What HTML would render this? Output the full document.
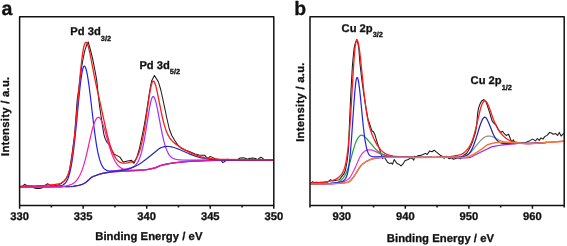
<!DOCTYPE html>
<html><head><meta charset="utf-8"><style>
html,body{margin:0;padding:0;background:#fff;overflow:hidden}
svg{display:block}
</style></head><body>
<svg width="567" height="246" viewBox="0 0 567 246">
<rect width="567" height="246" fill="#fff"/>
<g fill="none" stroke-linejoin="round" stroke-linecap="round">
<path d="M20.6 187.0L22.2 186.7L24.6 184.3L26.5 185.5L29.3 185.9L32.1 185.9L34.1 187.9L36.5 188.5L39.6 188.5L42.0 187.9L45.2 185.5L47.6 183.8L50.0 185.1L52.3 185.9L55.5 185.5L58.7 184.7L61.1 183.5L64.0 180.8L66.2 178.6L68.2 174.5L69.5 170.6L70.8 162.0L72.3 152.0L73.5 143.0L74.6 135.0L77.2 100.0L78.6 90.0L79.9 80.0L80.5 74.4L81.8 65.9L83.4 57.0L85.0 49.8L86.5 45.3L88.2 41.9L90.2 49.0L92.6 58.7L94.3 67.0L96.6 79.4L98.4 96.0L99.4 105.0L101.5 119.0L103.6 133.0L104.3 136.0L105.5 139.4L107.2 142.6L108.6 143.8L110.2 146.4L111.4 149.2L114.2 154.2L117.1 155.6L119.9 157.1L123.2 162.0L126.5 161.2L129.0 160.7L131.6 160.3L134.0 163.3L135.5 160.2L137.1 156.5L139.1 150.0L140.6 143.0L142.5 134.0L144.3 125.0L146.0 115.0L147.4 106.0L148.5 99.0L149.8 90.7L151.6 81.0L154.4 75.5L158.3 81.6L160.7 89.5L162.6 98.0L164.5 107.0L166.8 118.0L169.3 129.0L171.8 135.5L174.6 140.3L177.5 144.6L181.3 148.3L185.5 150.3L190.5 152.1L195.0 153.9L199.1 155.0L202.1 155.2L204.6 155.2L206.7 157.7L208.2 158.2L210.2 156.4L212.3 157.4L215.3 158.7L218.4 159.7L221.4 160.7L222.9 162.6L224.4 161.8L227.5 159.2L229.0 160.0L231.5 160.2L234.1 160.2L236.5 160.0L238.1 159.2L240.2 158.0L243.2 157.7L245.2 158.2L247.3 159.2L249.3 158.4L252.3 158.0L255.4 158.4L257.4 159.7L259.4 158.2L261.0 157.2L262.5 158.4L264.5 160.0L268.6 160.2L271.6 160.4L273.0 160.3" stroke="#1a1a1a" stroke-width="1.05"/>
<path d="M20.60 186.85L36.60 186.74L47.85 186.56L54.85 186.32L57.35 186.15L59.10 185.96L60.60 185.70L61.85 185.35L62.85 184.95L63.85 184.37L64.85 183.56L65.60 182.75L66.35 181.72L67.10 180.42L67.85 178.81L68.60 176.82L69.35 174.40L69.85 172.52L71.10 166.79L72.35 159.39L73.60 150.20L74.85 139.34L76.10 127.14L79.10 96.00L80.10 86.55L80.85 80.28L81.85 73.43L82.60 69.64L83.10 67.84L83.60 66.66L83.85 66.31L84.10 66.13L84.35 66.08L84.60 66.17L84.85 66.38L85.10 66.73L85.60 67.77L86.10 69.26L86.60 71.20L87.10 73.54L88.10 79.37L89.10 86.42L90.10 94.22L93.60 123.97L94.85 133.84L96.35 144.06L97.10 148.41L97.85 152.26L98.60 155.62L99.60 159.39L100.60 162.44L101.60 164.83L102.60 166.66L103.60 168.05L104.10 168.60L104.85 169.28L106.10 170.09L107.35 170.59L108.85 170.93L110.60 171.10L113.10 171.13L133.60 170.54L139.85 170.18L145.35 169.74L147.10 169.54L148.85 169.25L151.60 168.71L153.85 168.18L155.85 167.56L159.10 166.11L160.85 165.50L164.10 164.60L167.85 163.82L173.85 162.90L179.10 162.26L185.35 161.71L193.60 161.16L198.85 160.89L205.85 160.64L219.35 160.32L237.10 160.17L272.85 160.18" stroke="#2020f0" stroke-width="1.2"/>
<path d="M20.60 186.82L37.85 186.70L50.35 186.53L58.10 186.30L63.35 186.00L65.60 185.76L67.35 185.50L69.10 185.13L70.60 184.68L71.85 184.19L72.85 183.64L73.85 182.96L74.85 182.12L75.85 181.14L76.85 180.00L77.85 178.65L78.85 177.06L79.85 175.22L80.60 173.64L82.10 169.95L82.85 167.80L83.85 164.64L85.60 158.34L87.35 150.99L91.35 133.11L92.10 130.12L93.10 126.62L93.85 124.31L94.60 122.30L95.35 120.60L95.85 119.65L96.60 118.49L97.10 117.93L97.85 117.42L98.35 117.30L98.85 117.38L99.35 117.65L99.85 118.10L100.35 118.74L101.35 120.50L102.60 123.50L103.60 126.41L104.60 129.65L108.60 143.76L110.35 149.51L111.35 152.49L112.35 155.21L113.35 157.66L114.35 159.82L115.35 161.70L116.60 163.68L117.60 164.99L118.85 166.31L120.10 167.34L121.35 168.12L122.85 168.80L124.35 169.25L126.10 169.60L128.10 169.84L130.35 169.99L132.85 170.05L136.10 170.00L140.10 169.83L143.85 169.61L146.85 169.33L151.10 168.62L154.35 167.87L155.85 167.40L159.10 165.97L160.60 165.44L163.85 164.54L167.35 163.81L172.85 162.95L178.35 162.26L184.35 161.72L191.85 161.22L197.60 160.90L203.35 160.68L211.60 160.43L218.85 160.29L236.85 160.15L272.85 160.17" stroke="#f020a8" stroke-width="1.2"/>
<path d="M110.10 171.44L119.85 170.10L123.85 169.46L128.10 168.62L130.85 167.85L132.10 167.36L133.10 166.85L134.10 166.23L134.85 165.65L135.60 164.96L136.35 164.13L137.10 163.15L137.85 161.97L139.10 159.50L140.35 156.27L141.60 152.16L142.60 148.17L143.85 142.29L145.10 135.47L148.85 112.06L149.60 107.68L150.35 103.78L151.10 100.56L151.85 98.18L152.35 97.15L152.60 96.81L152.85 96.59L153.10 96.49L153.35 96.50L153.60 96.62L153.85 96.84L154.10 97.16L154.60 98.10L155.35 100.18L156.10 102.91L156.85 106.16L157.60 109.79L160.85 127.16L162.35 134.62L163.85 141.07L164.60 143.86L165.35 146.35L166.10 148.54L167.10 151.04L167.85 152.61L168.85 154.34L169.60 155.40L170.60 156.54L171.60 157.41L172.85 158.22L173.85 158.68L174.85 159.03L176.10 159.34L177.60 159.60L181.10 159.92L186.10 160.10L191.60 160.13L215.60 159.95L229.60 159.93L272.85 160.07" stroke="#9933ff" stroke-width="1.2"/>
<path d="M20.60 187.00L51.10 187.00L61.10 186.94L69.35 186.70L71.60 186.58L73.35 186.37L79.35 185.24L81.35 184.69L82.85 184.11L84.60 183.23L85.85 182.43L88.85 179.90L91.10 177.77L92.10 177.05L93.60 176.40L99.10 174.48L102.85 173.44L104.85 173.04L107.60 172.62L110.85 172.22L114.10 171.91L124.35 171.24L136.35 170.66L143.10 170.15L147.10 169.72L151.35 168.92L154.60 168.12L156.10 167.60L159.85 165.95L162.10 165.24L164.60 164.59L167.35 164.02L170.60 163.47L174.85 162.85L178.85 162.37L186.10 161.73L195.85 161.09L204.10 160.75L213.85 160.46L235.35 160.21L272.85 160.20" stroke="#d81b9c" stroke-width="1.2"/>
<path d="M66.10 186.76L71.35 186.52L73.10 186.33L78.60 185.32L80.35 184.90L81.85 184.42L82.85 184.01L84.10 183.40L85.10 182.84L85.85 182.33L88.85 179.79L91.10 177.65L92.10 176.93L93.60 176.27L98.85 174.41L100.60 173.86L103.35 173.15L106.35 172.58L110.60 171.94L119.10 170.83L123.35 170.09L126.10 169.48L128.60 168.83L130.85 168.13L132.85 167.38L135.35 166.25L137.85 164.92L140.35 163.40L143.10 161.55L147.10 158.54L157.85 149.69L159.35 148.58L160.60 147.88L162.10 147.24L163.60 146.80L165.10 146.54L167.10 146.41L169.10 146.51L171.35 146.86L173.85 147.48L176.10 148.21L178.35 149.07L189.10 153.82L191.85 154.93L194.60 155.91L197.85 156.92L201.35 157.82L204.60 158.48L208.10 158.99L211.35 159.34L215.10 159.61L219.60 159.82L224.35 159.94L244.35 160.06L272.85 160.12" stroke="#2a2ab0" stroke-width="1.2"/>
<path d="M20.60 186.23L34.10 185.88L44.35 185.41L48.60 185.11L52.35 184.77L55.35 184.40L57.85 183.97L59.60 183.56L61.10 183.05L62.35 182.45L63.60 181.61L64.60 180.69L65.60 179.45L66.35 178.27L67.10 176.82L67.85 175.04L68.60 172.89L69.35 170.31L70.10 167.24L71.35 160.91L72.60 152.86L73.85 142.97L75.35 128.85L76.60 115.57L80.10 76.10L81.10 66.01L81.85 59.32L82.85 51.91L83.35 48.96L83.85 46.56L84.35 44.71L84.85 43.41L85.35 42.62L85.60 42.40L85.85 42.30L86.10 42.31L86.35 42.43L86.60 42.66L86.85 42.99L87.35 43.95L87.85 45.27L88.35 46.91L89.35 50.91L90.85 57.97L94.10 75.14L96.10 84.89L100.10 102.69L105.60 127.84L107.35 135.21L108.85 140.93L110.10 145.19L111.35 148.96L112.60 152.21L113.85 154.96L115.10 157.23L115.85 158.37L116.60 159.36L117.85 160.70L118.60 161.34L119.35 161.87L120.35 162.41L121.60 162.86L122.85 163.11L124.10 163.20L125.85 163.09L127.60 162.78L129.35 162.30L131.10 161.63L131.35 161.68L132.10 162.11L132.35 162.13L132.85 162.03L133.35 161.78L134.10 161.22L134.85 160.48L135.60 159.58L136.35 158.50L137.10 157.22L138.35 154.58L139.60 151.20L140.85 146.95L142.10 141.73L143.35 135.49L144.35 129.78L145.60 121.81L149.35 95.64L150.10 91.04L150.85 87.10L151.60 84.03L152.10 82.55L152.60 81.57L152.85 81.27L153.10 81.10L153.35 81.04L153.60 81.10L153.85 81.27L154.10 81.55L154.60 82.43L155.35 84.44L156.10 87.12L157.35 92.60L160.85 110.21L162.60 118.28L163.60 122.37L164.35 125.14L165.35 128.40L166.35 131.22L167.35 133.62L168.35 135.66L169.60 137.78L170.85 139.50L172.35 141.18L173.85 142.57L175.85 144.13L178.10 145.68L182.10 148.20L186.35 150.64L190.10 152.57L193.60 154.14L197.10 155.46L200.85 156.63L204.60 157.53L208.35 158.20L211.85 158.65L215.85 159.00L220.60 159.29L225.60 159.46L245.10 159.74L272.85 159.91" stroke="#ff1a1a" stroke-width="1.3"/>
<path d="M20.60 187.00L51.35 187.00L61.85 186.93" stroke="#d81b9c" stroke-width="1.2"/>
<path d="M310.6 183.6L311.4 182.6L312.7 181.8L313.9 182.4L316.3 182.2L318.8 182.6L321.2 182.2L323.6 182.6L326.1 181.8L327.7 182.2L330.5 179.7L332.6 180.9L335.0 180.5L337.5 180.1L339.5 179.7L341.5 176.9L344.0 173.6L345.5 170.0L347.0 162.0L347.9 155.0L348.6 148.0L349.0 135.0L349.4 125.0L350.9 92.0L352.4 66.0L353.2 57.0L354.1 48.2L355.4 43.0L356.9 39.4L357.9 43.5L358.8 48.2L360.0 64.0L361.6 78.0L363.5 92.0L365.8 106.6L368.1 119.8L369.9 124.6L371.8 130.7L373.6 132.0L374.8 134.4L377.1 142.1L379.0 147.6L380.8 153.1L382.0 156.1L382.6 158.6L383.9 156.7L385.7 159.2L387.5 162.2L389.3 163.4L391.4 163.0L392.5 164.2L394.2 159.6L395.4 161.3L397.1 163.6L398.8 164.2L401.0 165.9L402.8 164.2L405.0 160.8L406.7 160.0L408.4 159.6L410.1 157.9L412.4 158.5L413.8 160.2L414.7 156.2L416.4 156.8L418.1 155.6L420.4 155.6L423.2 154.5L425.5 153.4L427.2 154.5L429.5 151.1L432.0 151.7L434.1 150.2L437.1 152.7L440.2 155.2L442.2 156.2L444.2 158.3L446.2 156.2L449.3 158.8L451.3 157.8L453.4 159.3L456.4 158.3L458.4 157.8L460.5 158.8L463.3 155.5L466.5 153.5L468.5 150.5L470.5 146.8L472.8 141.1L474.5 135.4L475.6 132.0L476.8 124.0L477.5 114.7L478.4 108.6L479.6 105.0L481.4 101.3L483.9 99.5L486.3 102.5L487.9 107.4L489.6 112.3L490.8 116.5L492.1 120.9L493.9 123.3L495.8 124.6L498.2 129.4L500.6 132.5L502.5 131.2L504.3 133.7L506.1 135.5L508.6 134.3L509.8 137.3L511.0 140.4L512.2 141.8L513.3 139.8L514.5 142.1L519.4 142.7L523.0 143.3L526.7 142.1L529.4 140.9L532.5 139.1L535.5 140.9L537.4 138.5L539.2 140.4L541.0 137.9L542.9 139.1L544.7 136.6L547.1 135.4L549.6 132.4L551.4 133.0L553.2 134.2L555.7 133.6L557.5 135.4L559.3 132.4L561.1 136.0L563.0 134.2L563.6 133.8" stroke="#1a1a1a" stroke-width="1.05"/>
<path d="M310.70 183.05L315.20 182.84L319.45 182.56L322.95 182.25L326.20 181.85L328.70 181.45L330.95 180.98L332.95 180.39L334.70 179.71L336.45 178.83L337.95 177.88L339.45 176.66L340.70 175.36L341.70 174.06L342.70 172.41L343.70 170.28L344.45 168.21L345.20 165.61L345.70 163.50L346.70 158.13L347.70 150.84L348.45 143.87L349.20 135.46L350.20 121.85L351.20 105.94L353.20 71.91L353.95 60.50L354.45 53.98L355.20 46.44L355.70 43.20L356.20 41.27L356.45 40.67L356.70 40.30L356.95 40.17L357.20 40.27L357.45 40.59L357.70 41.14L358.20 42.83L358.70 45.27L359.45 50.00L359.95 53.77L360.70 60.28L363.70 90.21L365.20 103.12L366.20 110.25L367.20 116.28L368.20 121.31L369.20 125.49L369.95 128.17L370.70 130.56L371.70 133.39L372.70 135.96L373.70 138.28L374.70 140.41L375.70 142.36L376.95 144.58L377.95 146.18L379.20 147.97L380.45 149.53L381.45 150.60L382.45 151.54L383.70 152.53L384.95 153.35L386.20 154.03L388.20 154.87L390.20 155.43L393.45 156.03L396.70 156.40L404.20 156.86L413.45 157.28L418.95 157.41L427.45 157.45L441.45 157.24L445.20 157.07L448.45 156.81L452.70 156.26L458.45 155.19L460.45 154.65L462.20 153.88L463.45 153.10L464.95 151.90L466.20 150.68L467.45 149.27L468.70 147.63L469.70 146.07L470.70 144.18L471.45 142.53L472.45 139.99L473.20 137.81L474.70 132.77L476.20 126.90L479.70 111.82L480.45 108.94L481.20 106.42L482.20 103.76L482.95 102.36L483.45 101.70L483.95 101.24L484.45 100.96L484.70 100.89L485.20 100.91L485.45 101.00L485.70 101.13L486.20 101.55L486.95 102.56L487.70 103.96L488.45 105.64L489.20 107.54L492.70 117.39L494.45 121.89L495.45 124.18L496.45 126.25L497.45 128.14L498.45 129.85L499.45 131.38L500.70 133.08L501.95 134.56L503.20 135.85L504.45 136.99L505.95 138.19L507.45 139.20L508.95 140.04L510.20 140.62L511.70 141.17L513.45 141.69L515.20 142.08L520.95 143.11L524.20 143.44L526.45 143.58L529.70 143.55L533.95 143.33L541.45 142.84L550.70 142.12L563.45 141.24" stroke="#ff1a1a" stroke-width="1.3"/>
<path d="M310.70 183.97L319.70 183.90L328.20 183.75L331.95 183.62L335.20 183.35L338.95 182.86L341.95 182.20L344.45 181.36L345.70 180.79L346.70 180.24L347.95 179.40L349.20 178.32L350.20 177.05L351.45 175.02L353.20 171.83L354.20 169.79L355.95 165.94L358.20 160.63L359.20 158.51L360.45 156.08L361.45 154.48L361.95 153.84L362.70 153.03L364.70 151.37L365.45 150.87L366.20 150.48L366.95 150.20L367.70 150.00L368.95 149.83L369.95 149.79L370.95 149.86L371.95 150.06L374.20 150.88L379.95 153.61L382.70 154.70L384.70 155.33L386.95 155.92L388.95 156.31L390.95 156.59L393.70 156.86L396.70 157.02L412.95 157.42L420.45 157.49L431.95 157.41" stroke="#f030c8" stroke-width="1.2"/>
<path d="M310.70 183.88L318.95 183.79L326.45 183.60L330.70 183.42L333.70 183.13L336.20 182.66L337.45 182.29L338.45 181.91L339.45 181.42L340.20 180.95L340.95 180.39L341.70 179.73L342.45 178.94L343.20 178.02L343.95 176.95L344.70 175.73L346.20 172.77L347.70 169.12L348.95 165.56L349.70 163.13L352.45 152.98L354.20 146.92L355.20 143.85L356.20 141.29L357.20 139.21L357.95 137.97L358.45 137.28L359.20 136.45L359.95 135.78L360.70 135.33L361.20 135.18L361.95 135.21L362.95 135.62L364.45 136.62L365.70 137.65L367.45 139.52L374.45 147.83L376.20 149.67L377.95 151.27L379.70 152.60L381.20 153.53L382.95 154.38L384.95 155.11L387.20 155.73L389.70 156.19L393.20 156.57L396.45 156.78L409.20 157.24L415.95 157.42L423.45 157.47L431.95 157.41" stroke="#1f9e3a" stroke-width="1.2"/>
<path d="M310.70 183.83L321.20 183.65L329.95 183.30L334.20 182.94L338.70 182.29L340.45 181.93L341.70 181.58L342.70 181.19L343.70 180.62L344.45 180.01L344.95 179.46L345.70 178.35L346.20 177.35L346.70 176.09L347.20 174.52L347.70 172.56L348.20 170.15L348.95 165.57L349.70 159.56L350.45 152.01L351.45 139.71L353.95 103.21L354.95 90.19L355.70 82.91L356.20 79.69L356.45 78.61L356.70 77.92L356.95 77.57L357.20 77.51L357.45 77.71L357.70 78.19L358.20 79.92L358.70 82.63L359.45 88.15L360.45 97.35L363.20 125.56L364.20 134.18L364.95 139.56L365.95 145.29L366.45 147.60L366.95 149.55L367.45 151.17L368.20 153.07L368.70 154.03L369.45 155.07L370.20 155.76L371.20 156.29L372.45 156.64L374.20 156.81L385.95 156.72L399.45 156.98L416.45 157.44L423.70 157.47L431.95 157.41" stroke="#2020f0" stroke-width="1.2"/>
<path d="M436.20 157.34L452.95 157.10L458.95 156.89L460.70 156.72L462.45 156.40L464.20 155.92L465.70 155.37L467.45 154.56L468.95 153.71L469.70 153.18L470.70 152.28L472.45 150.34L475.45 146.60L479.20 142.09L480.70 140.44L482.20 139.00L483.70 137.82L484.95 137.06L486.45 136.44L487.70 136.16L488.95 136.06L489.95 136.08L490.95 136.22L491.70 136.42L493.70 137.30L498.95 140.01L501.70 141.19L503.45 141.79L504.95 142.20L506.70 142.57L508.45 142.81L510.70 142.98L514.70 143.13L517.45 142.98L519.20 142.99L526.20 143.39L528.95 143.43L534.70 143.21L541.45 142.82L546.95 142.41" stroke="#8c8c8c" stroke-width="1.2"/>
<path d="M436.20 157.31L449.95 157.02L459.20 156.93L461.20 156.82L463.45 156.47L465.20 155.97L466.20 155.56L466.95 155.17L468.45 154.14L469.45 153.19L470.45 151.86L471.45 150.17L472.70 147.56L473.95 144.46L475.45 140.21L476.70 136.35L479.70 126.55L481.20 122.21L482.20 119.90L482.95 118.59L483.45 117.94L483.95 117.49L484.45 117.24L484.70 117.20L485.20 117.29L485.45 117.41L485.95 117.83L486.70 118.80L487.45 120.12L488.95 123.50L492.95 133.45L494.20 136.09L495.20 137.88L496.45 139.69L497.70 141.03L498.95 142.00L499.70 142.42L500.45 142.76L501.45 143.08L502.70 143.34L503.95 143.49L505.45 143.56L507.70 143.55L514.95 143.26L516.95 143.07L518.45 143.01L522.20 143.14L526.45 143.40L528.70 143.43L534.70 143.21L541.45 142.82L546.95 142.41" stroke="#22229a" stroke-width="1.2"/>
<path d="M310.70 184.00L326.20 183.86L330.95 183.78L334.20 183.63L340.20 183.25L344.20 182.87L346.70 182.46L347.70 182.22L348.70 181.88L349.45 181.50L350.45 180.68L351.45 179.60L353.45 177.19L354.45 175.77L355.95 173.46L358.20 169.59L359.20 168.05L360.70 165.92L361.70 164.80L362.70 163.98L365.20 162.22L366.20 161.58L367.45 160.91L369.95 159.73L371.45 159.13L372.95 158.71L374.70 158.35L378.45 157.84L383.70 157.41L386.20 157.30L392.70 157.22L401.20 157.22L417.95 157.50L435.95 157.35L436.20 157.42L444.70 157.42L455.20 157.60L461.95 157.90L465.20 157.83L468.95 157.59L470.20 157.32L471.70 156.72L474.95 155.01L478.45 153.33L486.70 149.17L490.45 147.38L491.95 146.81L494.20 146.29L498.70 145.53L502.95 144.95L510.70 144.09L514.95 143.78L517.70 143.47L519.95 143.39L526.70 143.60L529.95 143.54L540.20 142.92L546.95 142.41" stroke="#a020f0" stroke-width="1.2"/>
<path d="M310.70 184.00L326.20 183.86L330.95 183.78L334.20 183.63L340.20 183.25L344.20 182.87L346.70 182.46L347.70 182.22L348.70 181.88L349.45 181.50L350.45 180.68L351.45 179.60L353.45 177.19L354.45 175.77L355.95 173.46L358.20 169.59L359.45 167.67L360.95 165.61L361.95 164.58L362.70 163.98L365.45 162.05L366.45 161.44L367.70 160.79L369.95 159.73L371.45 159.13L372.95 158.71L374.95 158.31L378.45 157.84L383.95 157.40L386.20 157.30L392.45 157.22L400.70 157.21L414.95 157.47L421.70 157.49L440.45 157.29L454.95 157.00L456.70 157.09L460.95 157.56L462.20 157.60L463.20 157.55L464.95 157.31L466.95 156.87L469.20 156.29L470.70 155.71L473.20 154.40L476.70 152.36L478.70 151.10L482.70 148.36L485.45 146.10L486.70 145.25L488.45 144.48L490.45 143.80L492.70 143.25L495.45 142.71L497.45 142.46L499.95 142.31L502.95 142.21L505.70 142.23L515.95 142.70L521.20 143.23L525.20 143.54L528.70 143.58L532.45 143.42L540.45 142.91L550.70 142.12L563.45 141.24" stroke="#f07b3a" stroke-width="1.45"/>
</g>
<g fill="none" stroke="#111" stroke-width="1.5" stroke-linejoin="round">
<path d="M19.6 205.6V16.8H273.8V205.6Z"/>
<path d="M310.0 205.6V16.8H564.2V205.6Z"/>
<path d="M19.60 205.6V208.8M83.15 205.6V208.8M146.70 205.6V208.8M210.25 205.6V208.8M273.80 205.6V208.8M51.38 205.6V207.4M114.93 205.6V207.4M178.47 205.6V207.4M242.03 205.6V207.4M341.77 205.6V208.8M405.33 205.6V208.8M468.88 205.6V208.8M532.43 205.6V208.8M310.00 205.6V207.4M373.55 205.6V207.4M437.10 205.6V207.4M500.65 205.6V207.4M564.20 205.6V207.4"/>
</g>
<g fill="#111" stroke="#111" stroke-width="0.3" stroke-linejoin="round" stroke-linecap="round" text-rendering="geometricPrecision" font-weight="bold" style="font-family:&quot;Liberation Sans&quot;,sans-serif;filter:grayscale(1)">
<text x="1.4" y="14.7" font-size="19.6">a</text>
<text x="294.2" y="15.1" font-size="19.4">b</text>
<text x="19.60" y="220.4" font-size="11.2" text-anchor="middle">330</text>
<text x="83.15" y="220.4" font-size="11.2" text-anchor="middle">335</text>
<text x="146.70" y="220.4" font-size="11.2" text-anchor="middle">340</text>
<text x="210.25" y="220.4" font-size="11.2" text-anchor="middle">345</text>
<text x="273.80" y="220.4" font-size="11.2" text-anchor="middle">350</text>
<text x="341.77" y="220.4" font-size="11.2" text-anchor="middle">930</text>
<text x="405.33" y="220.4" font-size="11.2" text-anchor="middle">940</text>
<text x="468.88" y="220.4" font-size="11.2" text-anchor="middle">950</text>
<text x="532.43" y="220.4" font-size="11.2" text-anchor="middle">960</text>
<text x="95.2" y="240.4" font-size="11.3" letter-spacing="0.03">Binding Energy / eV</text>
<text x="386.8" y="242.0" font-size="11.3" letter-spacing="0.03">Binding Energy / eV</text>
<text transform="translate(9.2,156.0) rotate(-90)" font-size="11.3" letter-spacing="0.26">Intensity / a.u.</text>
<text transform="translate(304.1,141.8) rotate(-90)" font-size="11.3" letter-spacing="0.26">Intensity / a.u.</text>
<text x="70.3" y="35.2" font-size="11.2">Pd 3d<tspan font-size="7.4" dy="5.7">3/2</tspan></text>
<text x="139.4" y="69.0" font-size="11.2">Pd 3d<tspan font-size="7.4" dy="4.8">5/2</tspan></text>
<text x="341.6" y="32.2" font-size="11.2">Cu 2p<tspan font-size="7.4" dy="4.6">3/2</tspan></text>
<text x="470.6" y="84.4" font-size="11.2">Cu 2p<tspan font-size="7.4" dy="5.1">1/2</tspan></text>
</g>
</svg>
</body></html>
